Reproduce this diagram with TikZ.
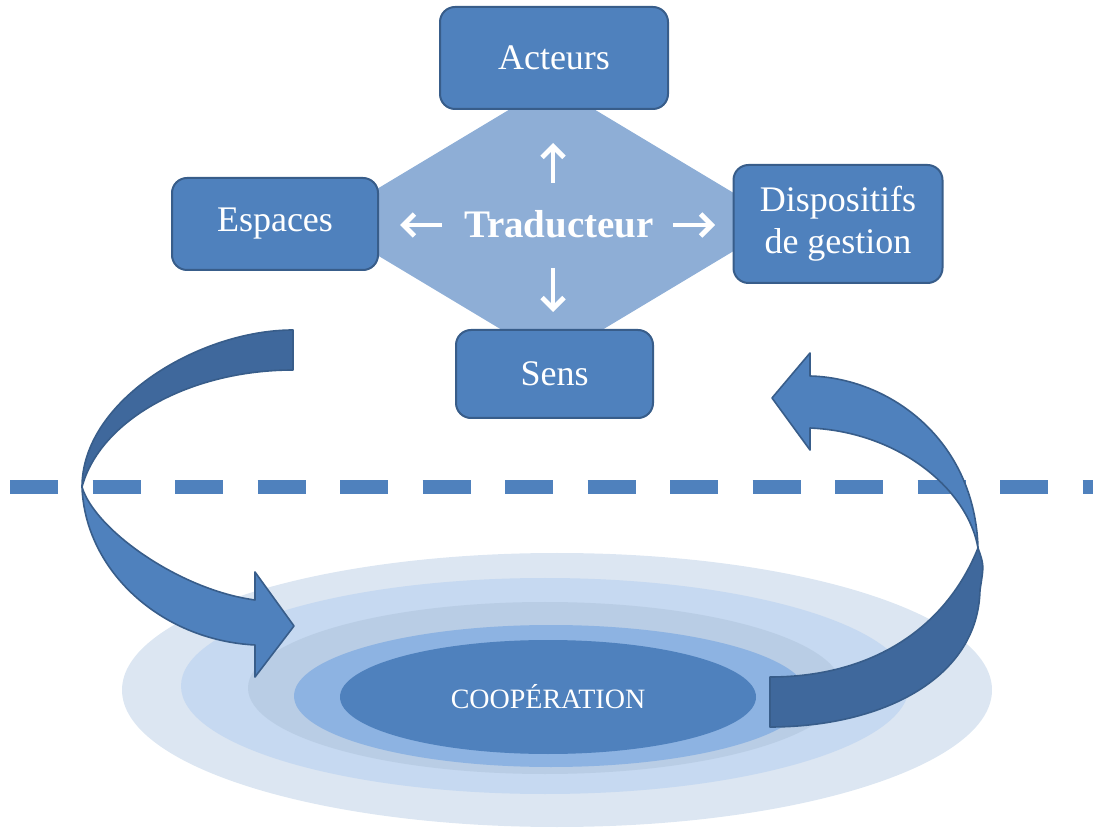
\documentclass[tikz,border=0pt]{standalone}
\usepackage{fontspec}
\setmainfont{Liberation Serif}
\usetikzlibrary{arrows.meta}
\definecolor{bleu}{HTML}{4F81BD}
\definecolor{bord}{HTML}{385D8A}
\definecolor{fonce}{HTML}{3F689C}
\definecolor{losange}{HTML}{8EAED6}
\definecolor{ellA}{HTML}{DCE6F2}
\definecolor{ellB}{HTML}{C6D9F1}
\definecolor{ellC}{HTML}{B9CDE5}
\definecolor{ellD}{HTML}{8DB3E2}
\tikzset{%
    bte/.style={rectangle, rounded corners=7.5pt, fill=bleu, draw=bord, line width=1pt, text=white, align=center, inner sep=2pt, font=\fontsize{18}{21}\selectfont},
    fle/.style={white, line width=2.4pt, -{Straight Barb[length=5.5pt,width=11pt]}},
    rub/.style={fill=bleu, draw=bord, line width=0.8pt, line join=round},
    rubf/.style={fill=fonce, draw=bord, line width=0.8pt, line join=round},
    tir/.style={bleu, line width=7pt, dash pattern=on 24pt off 17.25pt}
}

\begin{document}
\begin{tikzpicture}[x=0.5pt,y=-0.5pt]
    \useasboundingbox (0,0) rectangle (1093,839);
    % cooperation
    \fill[ellA] (557,690) ellipse [x radius=435, y radius=137];
    \fill[ellB] (545,686) ellipse [x radius=364, y radius=108];
    \fill[ellC] (545,688) ellipse [x radius=297, y radius=86];
    \fill[ellD] (551,696) ellipse [x radius=257, y radius=71];
    \fill[bleu] (548,697) ellipse [x radius=208, y radius=57];
    \node[text=white, font=\fontsize{14}{16}\selectfont] (coop) at (548,697) {COOPÉRATION};
    % traducteur
    \fill[losange] (552,84) -- (782,222) -- (552,360) -- (322,222) -- cycle;
    \node[bte, minimum width=114pt, minimum height=51pt] (act) at (554,58) {Acteurs};
    \node[bte, minimum width=103pt, minimum height=46pt] (esp) at (275,224) {Espaces};
    \node[bte, minimum width=104.5pt, minimum height=59pt] (dis) at (838,224) {Dispositifs\\de gestion};
    \node[bte, minimum width=98.5pt, minimum height=44pt] (sens) at (554.5,374) {Sens};
    \node[text=white, font=\bfseries\fontsize{19.5}{22}\selectfont] (trad) at (559,224) {Traducteur};
    \coordinate (hA) at (553,183); \coordinate (hB) at (553,143);
    \coordinate (bA) at (553,268); \coordinate (bB) at (553,312);
    \coordinate (gA) at (442,225); \coordinate (gB) at (400,225);
    \coordinate (dA) at (673,225); \coordinate (dB) at (715,225);
    \draw[fle] (hA) -- (hB);
    \draw[fle] (bA) -- (bB);
    \draw[fle] (gA) -- (gB);
    \draw[fle] (dA) -- (dB);
    \draw[tir] (10,487) -- (1093,487);
    % fleches courbes
    \filldraw[rubf] (293,330) .. controls (200,330) and (82,400) .. (82,487) .. controls (100,420) and (190,370) .. (293,370) -- cycle;
    \filldraw[rub] (82,487) .. controls (85,570) and (160,640) .. (255,645) -- (255,677) -- (294,626) -- (255,572) -- (255,600) .. controls (180,590) and (95,530) .. (82,487) -- cycle;
    \filldraw[rubf] (978,548) .. controls (984,565) .. (980,590) .. controls (978,680) and (880,727) .. (770,727) -- (770,677) .. controls (870,677) and (945,630) .. (978,548) -- cycle;
    \filldraw[rub] (772,398) -- (810,353) -- (810,376) .. controls (890,378) and (975,440) .. (978,548) .. controls (968,490) and (900,432) .. (810,428) -- (810,450) -- cycle;
\end{tikzpicture}
\end{document}
